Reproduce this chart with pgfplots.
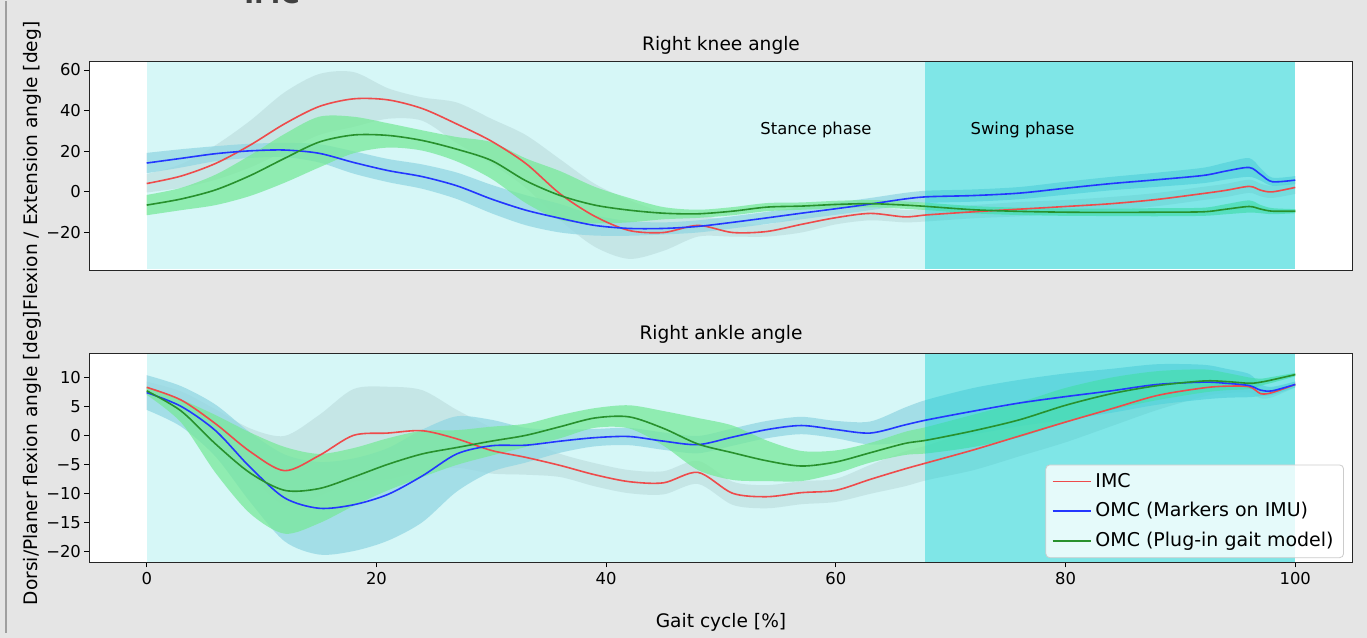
\documentclass[border=0pt]{standalone}
\usepackage{fontspec}
\setmainfont{DejaVu Sans}
\usepackage{xcolor}
\usepackage{pgfplots}
\usepackage{pgfplotstable}
\pgfplotsset{compat=1.18}
\usepgfplotslibrary{fillbetween}

\definecolor{figbg}{RGB}{229,229,229}
\definecolor{turq}{RGB}{0,206,209}
\definecolor{imcband}{RGB}{211,211,211}
\definecolor{mkband}{RGB}{173,216,230}
\definecolor{pigband}{RGB}{144,238,144}
\definecolor{imcline}{RGB}{238,75,75}
\definecolor{mkline}{RGB}{35,55,255}
\definecolor{pigline}{RGB}{40,145,45}
\pagecolor{figbg}

% knee: IMC mean with band edges, OMC means with std
\pgfplotstableread{
x   r     rlo    rhi   b     bsd  g     gsd
0   4.1   -0.3   8.8   14.2  5    -6.5  5
3   7.8   2      13.7  16.5  4.5  -3.5  5.5
6   14    6      23    18.8  3.7  1     7.5
9   23    12     35    20.2  3.5  8     10
12  33.5  20     49    20.6  3.5  16.5  12
15  42    28     58    19    4.5  24.5  12.5
18  45.8  32     59    14.5  5.5  28    9
21  45.3  36     51    10.5  5.7  27.8  6
24  41    35     46.5  7.5   6    25.3  5
27  33.4  24     44    3     6.5  21    6
30  25    14     36    -3.5  7    15.5  9
33  14    2      28    -9    7.4  5.5   11
36  -1    -14    16    -13   7    -1.8  12
39  -12   -27    4     -16.5 5    -6.5  9
42  -19   -33    -4    -18   3.6  -9    6
45  -20   -29    -10   -18   3    -10.5 3
48  -16.5 -22    -11   -17   3    -10.8 2
51  -20   -22    -15   -15   3    -9.5  2
54  -19.5 -22    -16   -12.8 3    -7.5  2
57  -16   -20    -12   -10.5 3    -7    1.8
60  -12.7 -16    -9    -8.3  3    -6.2  1.8
63  -10.6 -14    -7    -6    3    -5.8  1.8
66  -12.3 -15    -9    -3.5  3    -6.5  1.8
68  -11.3 -14.5  -8    -2.4  3    -7.2  1.8
72  -9.8  -13    -6.5  -1.8  3    -8.8  1.8
76  -8.5  -12    -5    -0.6  3    -9.6  1.8
80  -7.2  -10.5  -4    1.8   3.2  -10   1.8
84  -5.8  -9     -2.5  4.1   3.3  -10.1 1.8
88  -3.7  -7     -0.5  6     3.5  -10   2
92  -0.8  -4     2.5   8.1   3.8  -9.8  2
94  0.8   -2.5   4     10.3  4.2  -8.5  2.5
96  2.7   -0.5   6     12    4.6  -7.2  3
97  0.8   -2.2   4     8.5   3    -8.5  2
98  0     -3     3     5     2    -9.5  1.5
100 2.2   -1     5     5.8   2    -9.5  1
}\knee

% ankle: means with std
\pgfplotstableread{
x   r     rsd  b     bsd  g     gsd
0   8.3   1    7.4   3    7.7   0.7
3   6.1   1.5  5.0   3.5  4.2   2
6   2.0   2.5  0.8   4.5  -1.5  5
9   -2.8  4    -5.5  6    -6.5  7
12  -6.1  6    -10.8 7.5  -9.5  7.5
15  -3.5  7    -12.6 8    -9.2  6
18  0     8    -12.0 8    -7.2  5
21  0.4   8    -10.2 8    -5.0  4.5
24  0.8   7    -7.0  8    -3.2  4
27  -0.6  5    -3.2  6.5  -2.1  3
30  -2.6  4    -1.8  4.5  -1.0  2.5
33  -3.8  3    -1.7  3    0     2
36  -5.2  2    -1.0  2    1.5   2
39  -6.8  2    -0.4  1.5  3.0   1.7
42  -8.0  2    -0.2  1.5  3.2   2
45  -8.2  2    -1.0  1.5  1.2   3
48  -6.4  2    -1.6  1.5  -1.5  4.5
51  -10.0 2    -0.3  1.5  -3.0  4.7
54  -10.6 2    1.0   1.5  -4.4  3.5
57  -9.9  2    1.7   1.5  -5.3  2.6
60  -9.5  2    1.0   1.5  -4.6  2
63  -7.6  2.5  0.4   2    -3.0  1.7
66  -5.8  3    1.8   3    -1.4  2
68  -4.7  3    2.7   3.5  -0.8  2.3
72  -2.5  3.5  4.2   4    0.8   2.8
76  -0.1  3.5  5.6   4    2.7   3
80  2.3   3.5  6.7   4    5.2   3
84  4.6   3    7.7   3.8  7.2   2.8
88  6.9   2.5  8.8   3.5  8.6   2.5
92  8.2   1.5  9.2   3    9.4   2
94  8.5   1.2  9.0   2.5  9.3   1.5
96  8.4   1    8.6   2    9.0   1
97  7.2   0.8  7.8   1    9.2   0.6
98  7.4   0.8  7.7   0.7  9.6   0.5
100 8.8   0.5  8.8   0.5  10.5  0.3
}\ankle

\pgfplotsset{
  gaitax/.style={
    scale only axis, width=631.7pt, height=104.5pt,
    xmin=-5, xmax=105, xtick={0,20,...,100},
    axis background/.style={fill=white},
    tick align=outside, tick pos=left, major tick length=2.5pt,
    tick style={black, line width=0.4pt},
    axis line style={black!85, line width=0.6pt},
    ticklabel style={font=\fontsize{8.2}{9.8}\selectfont, /pgf/number format/assume math mode=true},
    yticklabel style={inner sep=1.5pt},
    xticklabel style={inner sep=2pt},
    ylabel style={at={(axis description cs:-0.0454,0.5)}, anchor=center, font=\fontsize{9.3}{11}\selectfont},
    every axis title shift=0pt,
    title style={at={(axis description cs:0.5,1.053)}, anchor=base, font=\fontsize{9.3}{11}\selectfont},
  },
  bandline/.style={draw=none, smooth, forget plot},
  meanline/.style={line width=0.8pt, smooth},
}
\tikzset{phasetext/.style={anchor=base west, inner sep=0pt, font=\fontsize{8.2}{9.8}\selectfont}}

\begin{document}
\begin{tikzpicture}
\path (0,0) rectangle (683.5pt,316pt);
\draw[gray!75, line width=0.8pt] (2.9pt,0) -- (2.9pt,316pt);
\node[overlay, anchor=base, font=\bfseries\fontsize{13.2}{15}\selectfont, text=black!75] at (136pt,314.8pt) {IMC};

% knee
\begin{axis}[gaitax, at={(44.65pt,181.15pt)}, anchor=south west,
  ymin=-38.7, ymax=64.2,
  ytick={-20,0,20,40,60}, yticklabels={−20,0,20,40,60},
  xtick=\empty,
  title={Right knee angle},
  ylabel={Flexion / Extension angle [deg]},
]
\addplot[bandline, name path=kru] table[x=x, y=rhi] {\knee};
\addplot[bandline, name path=krl] table[x=x, y=rlo] {\knee};
\addplot[imcband, fill opacity=0.45, draw=none, forget plot] fill between[of=kru and krl];
\addplot[bandline, name path=kbu] table[x=x, y expr=\thisrow{b}+\thisrow{bsd}] {\knee};
\addplot[bandline, name path=kbl] table[x=x, y expr=\thisrow{b}-\thisrow{bsd}] {\knee};
\addplot[mkband, fill opacity=0.72, draw=none, forget plot] fill between[of=kbu and kbl];
\addplot[bandline, name path=kgu] table[x=x, y expr=\thisrow{g}+\thisrow{gsd}] {\knee};
\addplot[bandline, name path=kgl] table[x=x, y expr=\thisrow{g}-\thisrow{gsd}] {\knee};
\addplot[pigband, fill opacity=0.75, draw=none, forget plot] fill between[of=kgu and kgl];

% stance / swing shading
\addplot[draw=none, forget plot, name path=kslo] coordinates {(0,-38) (67.8,-38)};
\addplot[draw=none, forget plot, name path=kshi] coordinates {(0,64) (67.8,64)};
\addplot[turq, fill opacity=0.16, draw=none, forget plot] fill between[of=kshi and kslo];
\addplot[draw=none, forget plot, name path=kwlo] coordinates {(67.8,-38) (100,-38)};
\addplot[draw=none, forget plot, name path=kwhi] coordinates {(67.8,64) (100,64)};
\addplot[turq, fill opacity=0.5, draw=none, forget plot] fill between[of=kwhi and kwlo];

\addplot[meanline, imcline] table[x=x, y=r] {\knee};
\addplot[meanline, mkline] table[x=x, y=b] {\knee};
\addplot[meanline, pigline] table[x=x, y=g] {\knee};

\node[phasetext] at (axis cs:53.4,28) {Stance phase};
\node[phasetext] at (axis cs:71.7,28) {Swing phase};
\end{axis}

% ankle
\begin{axis}[gaitax, at={(44.65pt,35.15pt)}, anchor=south west,
  ymin=-21.97, ymax=14.15,
  ytick={-20,-15,...,10}, yticklabels={−20,−15,−10,−5,0,5,10},
  title={Right ankle angle},
  title style={at={(axis description cs:0.5,1.066)}},
  ylabel={Dorsi/Planer flexion angle [deg]},
  xlabel={Gait cycle [\%]},
  xlabel style={at={(axis description cs:0.5,-0.285)}, anchor=center, font=\fontsize{9.3}{11}\selectfont},
  legend style={at={(axis description cs:0.9931,0.021)}, anchor=south east,
    fill=white, fill opacity=0.8, text opacity=1, draw=gray!40, rounded corners=2pt,
    font=\fontsize{9.5}{11.4}\selectfont, row sep=2.2pt, inner xsep=3pt, inner ysep=2pt},
  legend cell align=left,
  legend image code/.code={\draw[#1] (0pt,0pt) -- (19pt,0pt);},
]
% mean lines first so the legend takes them; the filled areas go on the layer below
\addplot[meanline, imcline] table[x=x, y=r] {\ankle};
\addlegendentry{IMC}
\addplot[meanline, mkline] table[x=x, y=b] {\ankle};
\addlegendentry{OMC (Markers on IMU)}
\addplot[meanline, pigline] table[x=x, y=g] {\ankle};
\addlegendentry{OMC (Plug-in gait model)}

\addplot[bandline, name path=aru] table[x=x, y expr=\thisrow{r}+\thisrow{rsd}] {\ankle};
\addplot[bandline, name path=arl] table[x=x, y expr=\thisrow{r}-\thisrow{rsd}] {\ankle};
\addplot[imcband, fill opacity=0.45, draw=none, forget plot] fill between[of=aru and arl];
\addplot[bandline, name path=abu] table[x=x, y expr=\thisrow{b}+\thisrow{bsd}] {\ankle};
\addplot[bandline, name path=abl] table[x=x, y expr=\thisrow{b}-\thisrow{bsd}] {\ankle};
\addplot[mkband, fill opacity=0.72, draw=none, forget plot] fill between[of=abu and abl];
\addplot[bandline, name path=agu] table[x=x, y expr=\thisrow{g}+\thisrow{gsd}] {\ankle};
\addplot[bandline, name path=agl] table[x=x, y expr=\thisrow{g}-\thisrow{gsd}] {\ankle};
\addplot[pigband, fill opacity=0.75, draw=none, forget plot] fill between[of=agu and agl];

\addplot[draw=none, forget plot, name path=aslo] coordinates {(0,-21.9) (67.8,-21.9)};
\addplot[draw=none, forget plot, name path=ashi] coordinates {(0,14.1) (67.8,14.1)};
\addplot[turq, fill opacity=0.16, draw=none, forget plot] fill between[of=ashi and aslo];
\addplot[draw=none, forget plot, name path=awlo] coordinates {(67.8,-21.9) (100,-21.9)};
\addplot[draw=none, forget plot, name path=awhi] coordinates {(67.8,14.1) (100,14.1)};
\addplot[turq, fill opacity=0.5, draw=none, forget plot] fill between[of=awhi and awlo];
\end{axis}
\end{tikzpicture}
\end{document}
